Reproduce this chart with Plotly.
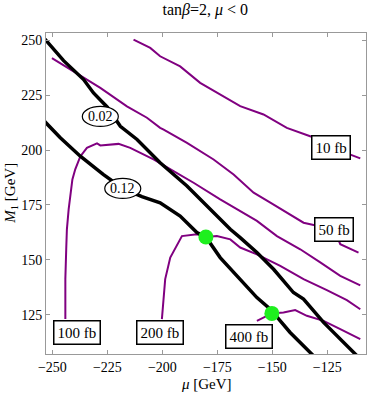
import plotly.graph_objects as go

# axis ticks
mu_ticks = [-250, -225, -200, -175, -150, -125]
m1_ticks = [125, 150, 175, 200, 225, 250]

# relic density contours (black)
mu_002 = [-253.5, -244.9, -235.8, -231.3, -225.0, -219.1, -211.5, -201.0, -188.8,
          -178.2, -169.1, -164.6, -157.0, -149.4, -140.4, -135.8, -126.7, -111.5, -110.0]
m1_002 = [250.6, 240.7, 232.1, 226.0, 219.5, 210.8, 204.8, 194.2, 183.6,
          173.0, 163.9, 160.1, 153.3, 145.7, 135.1, 132.1, 121.5, 106.3, 105.0]

mu_012 = [-253.5, -246.4, -237.3, -226.9, -218.0, -209.3, -201.0, -191.9, -184.3,
          -180.2, -173.7, -164.6, -157.0, -150.9, -141.9, -131.3, -130.0]
m1_012 = [213.0, 205.6, 197.2, 188.9, 182.5, 178.8, 176.0, 169.9, 162.4,
          160.4, 151.0, 141.2, 132.8, 127.5, 116.9, 106.3, 105.0]

# cross section contours (purple)
mu_10 = [-213.1, -205.5, -201.0, -191.9, -182.8, -172.3, -164.6, -154.0,
         -143.4, -132.8, -123.2, -110.0]
m1_10 = [250.3, 246.5, 242.7, 238.1, 230.6, 224.5, 220.0, 216.2,
         210.1, 206.3, 201.2, 196.2]

mu_50 = [-250.2, -240.4, -228.2, -216.1, -207.0, -201.0, -199.4, -188.8, -176.7,
         -167.6, -158.5, -150.9, -143.4, -135.8, -121.8, -119.1, -110.8]
m1_50 = [241.9, 235.8, 228.3, 219.9, 214.7, 210.1, 209.3, 203.3, 195.7,
         188.9, 180.6, 176.0, 171.5, 166.9, 163.8, 157.1, 153.3]

mu_100 = [-244.1, -244.1, -243.7, -243.4, -242.6, -241.9, -240.9, -239.6, -237.3,
          -234.3, -229.7, -228.2, -219.9, -214.6, -210.0, -204.0, -194.9, -185.8,
          -173.7, -164.6, -157.0, -147.9, -137.3, -128.2, -119.1, -110.0]
m1_100 = [123.0, 141.2, 154.9, 163.9, 173.0, 179.8, 186.6, 191.2, 197.1,
          201.0, 203.0, 202.1, 202.8, 201.0, 198.8, 195.7, 190.4, 185.1,
          177.5, 172.2, 167.7, 160.8, 154.8, 148.8, 142.7, 138.4]

mu_200 = [-200.2, -198.7, -196.4, -191.1, -184.3, -180.2, -175.2, -169.1, -164.6,
          -157.0, -146.4, -135.8, -125.2, -116.1, -110.0]
m1_200 = [123.0, 141.2, 151.0, 160.8, 161.6, 160.4, 160.8, 159.3, 155.6,
          152.5, 147.2, 141.2, 136.2, 131.6, 127.5]

mu_400 = [-157.0, -150.2, -144.9, -139.6, -134.3, -126.7, -119.1, -110.0]
m1_400 = [122.2, 125.6, 126.0, 127.1, 124.5, 122.2, 118.4, 113.9]

# benchmark points
pt_mu = [-180.2, -150.2]
pt_m1 = [160.4, 125.6]

# contour labels
box_text = ["10 fb", "50 fb", "100 fb", "200 fb", "400 fb"]
box_mu = [-123.2, -121.8, -238.8, -200.9, -160.5]
box_m1 = [201.2, 163.8, 116.9, 116.9, 115.0]

oval_text = ["0.02", "0.12"]
oval_mu = [-228.2, -218.0]
oval_m1 = [215.3, 182.5]

FONT = "Liberation Serif, Times New Roman, serif"
PURPLE = "#800080"

fig = go.Figure()

for xs, ys in [(mu_10, m1_10), (mu_50, m1_50), (mu_100, m1_100),
               (mu_200, m1_200), (mu_400, m1_400)]:
    fig.add_trace(go.Scatter(x=xs, y=ys, mode="lines",
                             line=dict(color=PURPLE, width=2), hoverinfo="skip"))

for xs, ys in [(mu_002, m1_002), (mu_012, m1_012)]:
    fig.add_trace(go.Scatter(x=xs, y=ys, mode="lines",
                             line=dict(color="black", width=3.5), hoverinfo="skip"))

fig.add_trace(go.Scatter(x=pt_mu, y=pt_m1, mode="markers", hoverinfo="skip",
                         marker=dict(color="#1eef1e", size=15, line=dict(width=0))))

for t, x, y in zip(box_text, box_mu, box_m1):
    fig.add_annotation(x=x, y=y, text=t, showarrow=False,
                       font=dict(family=FONT, size=15, color="black"),
                       bgcolor="white", bordercolor="black", borderwidth=1.5,
                       borderpad=3)

for t, x, y in zip(oval_text, oval_mu, oval_m1):
    fig.add_shape(type="circle", xref="x", yref="y", xsizemode="pixel",
                  ysizemode="pixel", xanchor=x, yanchor=y,
                  x0=-18, x1=18, y0=-10, y1=10,
                  fillcolor="white", line=dict(color="black", width=1.2))
    fig.add_annotation(x=x, y=y, text=t, showarrow=False,
                       font=dict(family=FONT, size=14, color="black"))

# axis titles
fig.add_annotation(xref="paper", yref="paper", x=0.5, y=-0.0925, yanchor="middle",
                   text="<i>μ</i> [GeV]", showarrow=False,
                   font=dict(family=FONT, size=15, color="black"))
fig.add_annotation(xref="paper", yref="paper", x=-0.112, y=0.5, xanchor="center",
                   text="<i>M</i><sub>1</sub> [GeV]", textangle=-90, showarrow=False,
                   font=dict(family=FONT, size=15, color="black"))

axis_style = dict(showgrid=False, zeroline=False, showline=True, linecolor="#999999",
                  linewidth=1, mirror="allticks", ticks="inside", ticklen=4,
                  tickcolor="#999999", tickfont=dict(family=FONT, size=14, color="black"))

fig.update_layout(
    width=374, height=394, autosize=False,
    margin=dict(l=46, r=8, t=33, b=40),
    paper_bgcolor="white", plot_bgcolor="white",
    showlegend=False,
    title=dict(text="tan<i>β</i>=2, <i>μ</i> &lt; 0", x=0.549, xanchor="center",
               y=0.977, yanchor="middle", font=dict(family=FONT, size=16, color="black")),
    xaxis=dict(range=[-252.9, -107.4], tickvals=mu_ticks, **axis_style),
    yaxis=dict(range=[107.1, 253.3], tickvals=m1_ticks, **axis_style),
)

# page body has a default margin; drop it so the figure sits at the window corner
fig.write_html("out.html", config={"displayModeBar": False},
               post_script="document.body.style.margin='0';")
